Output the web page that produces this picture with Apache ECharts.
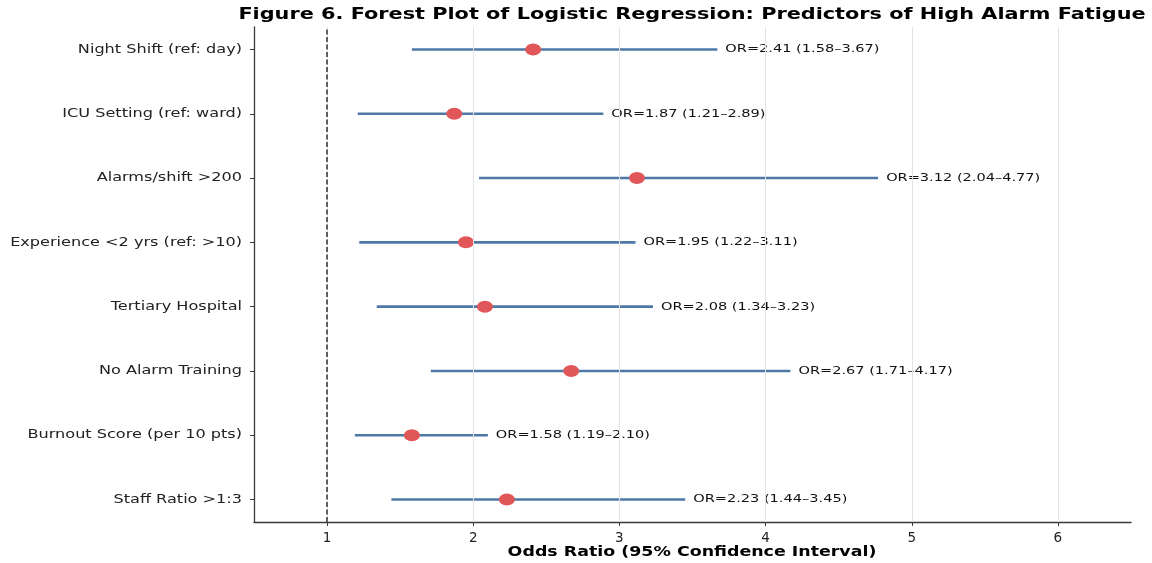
<!DOCTYPE html>
<html>
<head>
<meta charset="utf-8">
<script src="https://cdn.jsdelivr.net/npm/echarts@6/dist/echarts.min.js"></script>
<style>
  html, body { margin: 0; padding: 0; background: #fff; }
  #chart { width: 1152px; height: 563px; }
</style>
</head>
<body>
<div id="chart"></div>
<script>
// Predictors, listed top to bottom as drawn
const predictors = [
  'Night Shift (ref: day)',
  'ICU Setting (ref: ward)',
  'Alarms/shift >200',
  'Experience <2 yrs (ref: >10)',
  'Tertiary Hospital',
  'No Alarm Training',
  'Burnout Score (per 10 pts)',
  'Staff Ratio >1:3'
];
const oddsRatio = [2.41, 1.87, 3.12, 1.95, 2.08, 2.67, 1.58, 2.23];
const ciLower   = [1.58, 1.21, 2.04, 1.22, 1.34, 1.71, 1.19, 1.44];
const ciUpper   = [3.67, 2.89, 4.77, 3.11, 3.23, 4.17, 2.10, 3.45];
const xTicks    = [1, 2, 3, 4, 5, 6];
const nullValue = 1;

const TITLE = 'Figure 6. Forest Plot of Logistic Regression: Predictors of High Alarm Fatigue';
const X_NAME = 'Odds Ratio (95% Confidence Interval)';

const X_MIN = 0.5, X_MAX = 6.5;
const n = predictors.length;
const rowPos = predictors.map((_, i) => n - 1 - i);
const rowTicks = rowPos.slice().sort((a, b) => a - b);
const fmt = v => v.toFixed(2);

const intervalData = predictors.map((name, i) => [ciLower[i], ciUpper[i], rowPos[i],
  'OR=' + fmt(oddsRatio[i]) + ' (' + fmt(ciLower[i]) + '\u2013' + fmt(ciUpper[i]) + ')']);
const pointData = predictors.map((name, i) => [oddsRatio[i], rowPos[i]]);
const rowLabelData = predictors.map((name, i) => [X_MIN, rowPos[i], name]);

// The figure's text is set wide: glyphs are stretched horizontally
const WIDE = 1.3;
const FONT = '"DejaVu Sans"';

const chart = echarts.init(document.getElementById('chart'), null, { renderer: 'canvas' });

chart.setOption({
  animation: false,
  backgroundColor: '#ffffff',
  graphic: [
    { type: 'text', x: 692, y: 15, scaleX: WIDE,
      style: { text: TITLE, font: 'bold 16px ' + FONT, fill: '#000',
        textAlign: 'center', textVerticalAlign: 'middle' } },
    { type: 'text', x: 692, y: 553, scaleX: WIDE,
      style: { text: X_NAME, font: 'bold 13.4px ' + FONT, fill: '#000',
        textAlign: 'center', textVerticalAlign: 'middle' } }
  ],
  grid: { left: 254, right: 21, top: 27, bottom: 41, containLabel: false },
  xAxis: {
    type: 'value', min: X_MIN, max: X_MAX,
    axisLine: { show: true, onZero: false, lineStyle: { color: '#3a3a3a', width: 1.3 } },
    axisTick: { show: true, length: 4, customValues: xTicks, lineStyle: { color: '#3a3a3a', width: 1 } },
    axisLabel: { customValues: xTicks, fontFamily: 'DejaVu Sans', fontSize: 13.5, color: '#222', margin: 9 },
    splitLine: { show: false }
  },
  yAxis: {
    type: 'value', min: -0.35, max: n - 1 + 0.35,
    axisLine: { show: true, onZero: false, lineStyle: { color: '#3a3a3a', width: 1.3 } },
    axisTick: { show: true, length: 4, customValues: rowTicks, lineStyle: { color: '#3a3a3a', width: 1 } },
    axisLabel: { show: false },
    splitLine: { show: false }
  },
  series: [
    {
      // vertical gridlines and the null line at OR = 1
      type: 'line', data: [], silent: true, z: 1,
      markLine: {
        symbol: 'none', silent: true, animation: false,
        label: { show: false },
        data: xTicks.map(v => ({ xAxis: v, lineStyle: { color: '#e3e3e3', width: 1, type: 'solid' } }))
          .concat([{ xAxis: nullValue, lineStyle: { color: '#333', width: 1.5, type: [5, 2.5] } }])
      }
    },
    {
      // predictor names beside the y-axis ticks
      type: 'custom', z: 3, silent: true,
      data: rowLabelData,
      renderItem: (params, api) => {
        const p = api.coord([api.value(0), api.value(1)]);
        return {
          type: 'text', x: p[0] - 12, y: p[1], scaleX: WIDE,
          style: { text: rowLabelData[params.dataIndex][2], fill: '#222',
            font: '12.4px ' + FONT, textAlign: 'right', textVerticalAlign: 'middle' }
        };
      }
    },
    {
      // confidence interval bars with their value labels
      type: 'custom', z: 3,
      data: intervalData,
      renderItem: (params, api) => {
        const y = api.value(2);
        const p1 = api.coord([api.value(0), y]);
        const p2 = api.coord([api.value(1), y]);
        return {
          type: 'group',
          children: [
            { type: 'line', shape: { x1: p1[0], y1: p1[1], x2: p2[0], y2: p2[1] },
              style: { stroke: '#4e79a7', lineWidth: 2.6 } },
            { type: 'text', x: p2[0] + 8, y: p2[1], scaleX: WIDE,
              style: { text: intervalData[params.dataIndex][3], fill: '#111',
                font: '11.2px ' + FONT, textVerticalAlign: 'middle', textAlign: 'left' } }
          ]
        };
      }
    },
    {
      // point estimates
      type: 'scatter', z: 4,
      data: pointData,
      symbol: 'circle', symbolSize: [16, 12],
      itemStyle: { color: '#e15759', opacity: 1 }
    }
  ]
});
</script>
</body>
</html>
